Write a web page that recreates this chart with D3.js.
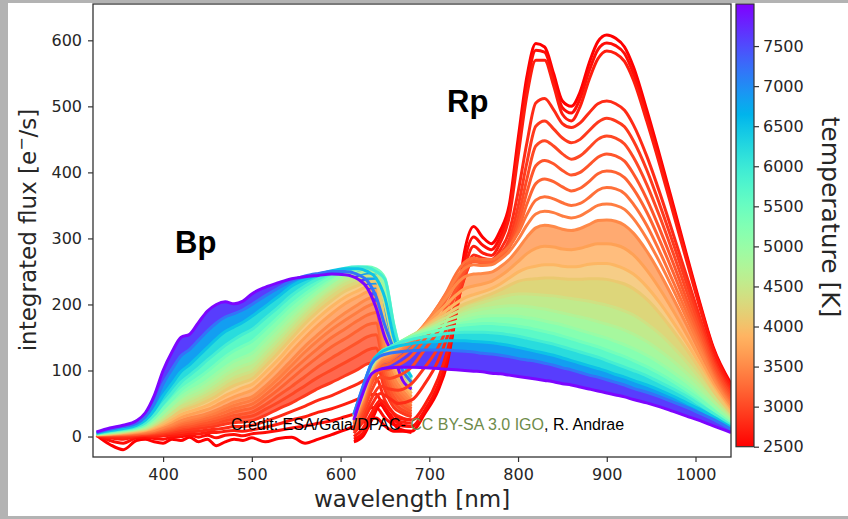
<!DOCTYPE html>
<html><head><meta charset="utf-8">
<script src="https://cdn.jsdelivr.net/npm/d3@7"></script>
<style>
html,body{margin:0;padding:0;background:#fff;}
svg{display:block;}
</style></head>
<body>
<svg id="chart" width="848" height="519"></svg>
<script>
// ---------------- DATA ----------------
const temperatures = [2500, 2600, 2700, 2800, 2900, 3000, 3100, 3200, 3300, 3400, 3500, 3700, 3900, 4100, 4400, 4700, 5000, 5400, 5900, 6500, 7200, 8000];

const bpWavelengths = [325, 340, 355, 370, 380, 390, 400, 410, 420, 430, 440, 450, 460, 470, 480, 490, 500, 515, 530, 545, 560, 575, 590, 605, 620, 630, 640, 650, 660, 670, 680];
const rpWavelengths = [615, 625, 635, 645, 655, 665, 680, 695, 710, 720, 730, 740, 750, 760, 770, 780, 790, 800, 810, 820, 830, 840, 850, 860, 870, 880, 890, 900, 910, 920, 930, 945, 960, 975, 990, 1005, 1020, 1040];

const bp2500 = [2, -12, -20, -6, -4, -8, -10, -4, -6, -1, -8, -4, -14, -8, -4, -6, -2, -8, -3, -1, -10, -4, 3, 10, 18, 25, 28, 16, 8, 8, 6];
const bp2600 = [2, -6, -10, -2, -1, -3, -4, -1, 0, 2, -1, 2, -2, 2, 3, 1, 4, 6, 9, 13, 16, 20, 24, 30, 36, 42, 44, 28, 18, 16, 15];
const bp2700 = [1, -2, -4, 0, 1, 0, 1, 2, 3, 5, 4, 6, 6, 8, 9, 8, 10, 14, 19, 25, 30, 37, 42, 49, 57, 63, 64, 40, 26, 22, 20];
const bp2800 = [1, 0, -1, 1, 2, 2, 3, 5, 6, 8, 8, 10, 11, 13, 15, 15, 17, 23, 30, 38, 46, 55, 62, 71, 80, 87, 88, 55, 35, 28, 25];
const bp2900 = [2, 1, 1, 2, 3, 4, 5, 7, 9, 11, 12, 14, 16, 19, 21, 22, 24, 32, 42, 51, 62, 73, 82, 92, 102, 110, 112, 70, 44, 35, 30];
const bp3000 = [2, 2, 2, 3, 4, 5, 7, 9, 12, 14, 16, 18, 20, 24, 27, 29, 31, 41, 52, 64, 77, 90, 101, 112, 123, 131, 134, 82, 52, 40, 34];
const bp3100 = [2, 2, 3, 4, 5, 6, 8, 11, 14, 16, 19, 21, 24, 28, 32, 34, 37, 48, 62, 76, 91, 106, 119, 131, 143, 151, 154, 95, 60, 46, 38];
const bp3200 = [2, 3, 3, 4, 5, 7, 10, 13, 17, 19, 22, 25, 28, 32, 37, 40, 43, 56, 71, 88, 105, 121, 136, 148, 161, 169, 172, 105, 68, 52, 42];
const bp3300 = [2, 3, 4, 5, 6, 8, 11, 15, 19, 22, 25, 28, 32, 37, 42, 45, 49, 63, 80, 99, 117, 134, 150, 163, 176, 184, 188, 115, 75, 58, 46];
const bp3400 = [3, 3, 4, 6, 7, 9, 13, 17, 22, 25, 28, 32, 36, 42, 47, 51, 55, 70, 88, 108, 128, 146, 162, 176, 189, 197, 202, 125, 82, 64, 50];
const bp3500 = [3, 4, 5, 6, 8, 10, 14, 19, 24, 28, 31, 35, 40, 46, 52, 56, 60, 76, 95, 116, 137, 155, 172, 187, 200, 208, 212, 135, 90, 70, 55];
const bp3700 = [3, 4, 5, 7, 9, 12, 17, 22, 29, 33, 37, 41, 47, 54, 60, 65, 70, 87, 107, 129, 150, 169, 186, 201, 212, 219, 221, 150, 100, 78, 60];
const bp3900 = [3, 4, 6, 8, 10, 14, 19, 26, 33, 38, 42, 47, 54, 62, 68, 74, 79, 97, 117, 140, 161, 180, 197, 211, 221, 227, 228, 160, 110, 84, 65];
const bp4100 = [3, 5, 6, 9, 11, 16, 22, 30, 38, 43, 48, 54, 61, 70, 77, 82, 87, 106, 127, 149, 171, 190, 206, 220, 229, 234, 235, 175, 120, 90, 70];
const bp4400 = [3, 5, 7, 10, 12, 18, 26, 35, 45, 51, 57, 64, 72, 81, 89, 94, 99, 119, 140, 162, 183, 202, 218, 231, 239, 243, 243, 200, 140, 100, 76];
const bp4700 = [4, 6, 8, 11, 14, 21, 30, 41, 52, 60, 66, 74, 83, 93, 101, 107, 112, 132, 153, 174, 194, 212, 227, 240, 247, 250, 249, 215, 150, 106, 80];
const bp5000 = [4, 6, 9, 12, 16, 24, 35, 48, 60, 69, 76, 85, 95, 105, 114, 120, 126, 146, 166, 186, 204, 220, 234, 246, 252, 255, 253, 228, 160, 112, 84];
const bp5400 = [4, 7, 10, 13, 18, 28, 42, 56, 70, 80, 89, 99, 110, 121, 130, 137, 144, 162, 181, 200, 216, 230, 242, 252, 256, 257, 254, 240, 170, 118, 88];
const bp5900 = [5, 8, 11, 15, 21, 33, 50, 66, 82, 93, 104, 116, 127, 138, 147, 155, 162, 179, 196, 214, 228, 239, 248, 255, 257, 256, 250, 238, 168, 118, 90];
const bp6500 = [5, 9, 12, 17, 25, 40, 62, 80, 98, 109, 122, 135, 148, 159, 166, 173, 182, 197, 212, 228, 238, 245, 251, 254, 254, 250, 240, 210, 150, 112, 90];
const bp7200 = [6, 11, 15, 20, 30, 50, 80, 102, 122, 132, 146, 160, 172, 181, 186, 192, 200, 213, 225, 236, 243, 247, 250, 250, 245, 236, 212, 168, 132, 100, 82];
const bp8000 = [7, 13, 17, 24, 36, 62, 100, 128, 150, 155, 173, 190, 200, 204, 201, 205, 216, 226, 233, 239, 242, 244, 246, 245, 238, 225, 195, 150, 122, 85, 72];

const rp2500 = [-8, 0, 25, 48, 30, 12, 8, 35, 70, 110, 185, 282, 318, 302, 292, 312, 350, 450, 545, 595, 590, 550, 508, 500, 522, 565, 598, 608, 603, 590, 560, 495, 424, 350, 275, 202, 135, 80];
const rp2600 = [-4, 5, 30, 50, 35, 20, 15, 40, 78, 118, 185, 268, 302, 290, 283, 303, 342, 438, 532, 585, 582, 542, 498, 490, 512, 553, 586, 596, 592, 580, 550, 487, 418, 345, 271, 199, 133, 77];
const rp2700 = [0, 12, 36, 55, 42, 28, 25, 48, 88, 128, 185, 255, 288, 278, 274, 294, 332, 424, 517, 570, 570, 532, 488, 478, 500, 540, 572, 584, 580, 568, 540, 478, 410, 338, 266, 195, 130, 74];
const rp2800 = [5, 22, 48, 65, 58, 50, 55, 80, 115, 150, 195, 242, 275, 270, 268, 283, 310, 370, 445, 505, 512, 495, 474, 468, 475, 490, 504, 508, 504, 494, 472, 425, 368, 306, 243, 180, 120, 70];
const rp2900 = [8, 28, 58, 76, 72, 70, 80, 105, 135, 165, 203, 242, 268, 265, 264, 276, 298, 348, 415, 470, 478, 466, 452, 445, 450, 463, 476, 482, 478, 469, 448, 404, 350, 292, 232, 172, 115, 66];
const rp3000 = [12, 36, 70, 90, 88, 92, 105, 132, 160, 186, 216, 248, 266, 264, 264, 274, 292, 332, 390, 440, 448, 440, 428, 420, 425, 437, 450, 455, 452, 443, 423, 382, 332, 277, 220, 164, 110, 62];
const rp3100 = [15, 42, 80, 100, 102, 108, 122, 148, 175, 198, 224, 252, 265, 263, 263, 272, 288, 320, 370, 410, 418, 413, 403, 396, 400, 411, 423, 428, 425, 417, 398, 360, 313, 262, 208, 156, 104, 58];
const rp3200 = [18, 46, 86, 106, 110, 118, 134, 160, 188, 210, 234, 258, 266, 264, 264, 272, 286, 312, 352, 383, 390, 386, 378, 372, 376, 386, 398, 402, 400, 392, 375, 340, 296, 248, 198, 148, 99, 54];
const rp3300 = [20, 50, 90, 110, 115, 124, 142, 168, 198, 220, 246, 264, 270, 268, 268, 276, 288, 308, 336, 358, 363, 360, 354, 350, 353, 362, 373, 377, 375, 368, 352, 320, 279, 234, 188, 141, 94, 50];
const rp3400 = [22, 52, 92, 112, 118, 127, 145, 170, 198, 218, 240, 255, 260, 259, 260, 268, 280, 298, 320, 337, 341, 339, 334, 331, 334, 342, 350, 352, 350, 344, 330, 300, 263, 222, 179, 135, 90, 47];
const rp3500 = [24, 55, 95, 115, 121, 130, 148, 170, 195, 212, 230, 242, 246, 247, 249, 257, 268, 284, 302, 316, 320, 318, 314, 312, 315, 321, 327, 328, 326, 320, 308, 281, 247, 209, 169, 128, 86, 44];
const rp3700 = [26, 58, 98, 118, 124, 133, 150, 168, 188, 201, 214, 224, 228, 231, 235, 243, 253, 265, 277, 285, 288, 287, 284, 283, 285, 289, 292, 292, 290, 285, 275, 252, 223, 190, 155, 118, 80, 40];
const rp3900 = [28, 60, 101, 120, 127, 136, 151, 166, 182, 192, 202, 210, 215, 219, 224, 231, 240, 249, 255, 258, 260, 260, 258, 257, 258, 261, 262, 262, 259, 254, 246, 227, 202, 173, 142, 109, 74, 36];
const rp4100 = [29, 62, 103, 122, 129, 138, 152, 165, 178, 186, 194, 201, 206, 211, 216, 222, 229, 235, 238, 239, 240, 240, 239, 238, 238, 239, 239, 238, 235, 231, 224, 208, 186, 160, 132, 102, 70, 33];
const rp4400 = [30, 64, 105, 124, 131, 140, 153, 163, 174, 181, 188, 194, 199, 203, 207, 211, 214, 216, 216, 215, 214, 213, 211, 209, 207, 205, 202, 199, 195, 190, 184, 171, 155, 135, 113, 88, 61, 29];
const rp4700 = [31, 66, 107, 126, 133, 141, 153, 161, 170, 176, 181, 186, 190, 193, 195, 197, 198, 198, 197, 195, 193, 190, 187, 184, 181, 178, 174, 170, 166, 161, 155, 144, 130, 114, 96, 76, 54, 26];
const rp5000 = [32, 68, 109, 127, 134, 142, 152, 159, 166, 170, 174, 177, 180, 182, 183, 183, 183, 182, 180, 178, 175, 172, 169, 165, 161, 157, 153, 149, 144, 139, 133, 123, 111, 97, 82, 65, 47, 23];
const rp5400 = [33, 70, 110, 128, 135, 142, 150, 156, 161, 164, 167, 169, 170, 171, 171, 170, 169, 167, 165, 162, 159, 156, 152, 148, 144, 140, 136, 131, 126, 121, 115, 106, 95, 83, 70, 56, 40, 20];
const rp5900 = [34, 72, 111, 128, 135, 141, 147, 151, 154, 156, 157, 158, 158, 158, 157, 156, 154, 152, 149, 146, 143, 140, 136, 132, 128, 124, 120, 115, 110, 105, 100, 92, 82, 72, 61, 48, 35, 17];
const rp6500 = [34, 74, 112, 127, 133, 137, 141, 143, 144, 145, 145, 145, 144, 143, 142, 140, 138, 135, 132, 129, 126, 123, 119, 115, 111, 107, 103, 99, 94, 90, 85, 78, 70, 61, 51, 41, 30, 14];
const rp7200 = [33, 75, 110, 122, 126, 128, 130, 131, 131, 131, 130, 129, 128, 126, 125, 123, 121, 118, 116, 114, 111, 108, 104, 101, 97, 93, 90, 86, 82, 78, 73, 67, 60, 52, 44, 35, 26, 11];
const rp8000 = [25, 65, 95, 102, 104, 105, 105, 104, 103, 102, 101, 100, 99, 98, 96, 95, 93, 91, 89, 87, 85, 83, 80, 78, 75, 72, 69, 66, 63, 60, 56, 51, 45, 38, 31, 24, 16, 6];

const bpFlux = [bp2500, bp2600, bp2700, bp2800, bp2900, bp3000, bp3100, bp3200, bp3300, bp3400, bp3500, bp3700, bp3900, bp4100, bp4400, bp4700, bp5000, bp5400, bp5900, bp6500, bp7200, bp8000];
const rpFlux = [rp2500, rp2600, rp2700, rp2800, rp2900, rp3000, rp3100, rp3200, rp3300, rp3400, rp3500, rp3700, rp3900, rp4100, rp4400, rp4700, rp5000, rp5400, rp5900, rp6500, rp7200, rp8000];

const xTicks = [400, 500, 600, 700, 800, 900, 1000];
const yTicks = [0, 100, 200, 300, 400, 500, 600];
const cbTicks = [2500, 3000, 3500, 4000, 4500, 5000, 5500, 6000, 6500, 7000, 7500];

// ---------------- LAYOUT ----------------
const svg = d3.select('#chart');
const W = 848, H = 519;
const P = {l: 93, r: 731, t: 4, b: 457};
const CB = {l: 736, r: 754, t: 4, b: 446.7};
const FONT = '"DejaVu Sans", Verdana, sans-serif';
const INK = '#262626';
const fmt = d3.format('d');

// outer grey frame
svg.append('rect').attr('width', W).attr('height', H).attr('fill', '#b3b3b3');
svg.append('rect').attr('x', 8).attr('y', 3).attr('width', W - 8).attr('height', 513).attr('fill', '#fff');

const x = d3.scaleLinear().domain([321, 1040]).range([P.l, P.r]);
const y = d3.scaleLinear().domain([-31, 655]).range([P.b, P.t]);

function rainbow(t) {
  const r = Math.min(1, Math.abs(2 * t - 0.5));
  const g = Math.max(0, Math.sin(Math.PI * t));
  const b = Math.max(0, Math.cos(Math.PI * t / 2));
  return d3.rgb(r * 255, g * 255, b * 255).formatHex();
}
const color = d3.scaleSequential(rainbow).domain([8025, 2500]);

const defs = svg.append('defs');
defs.append('clipPath').attr('id', 'plotclip').append('rect')
  .attr('x', P.l).attr('y', P.t).attr('width', P.r - P.l).attr('height', P.b - P.t);

const plot = svg.append('g').attr('clip-path', 'url(#plotclip)');

function drawBand(wl, flux, fillFrom) {
  const area = d3.area().x((d, i) => x(wl[i])).y0(d => y(d[0])).y1(d => y(d[1])).curve(d3.curveMonotoneX);
  const line = d3.line().x((d, i) => x(wl[i])).y(d => y(d)).curve(d3.curveMonotoneX);
  for (let i = 0; i < temperatures.length - 1; i++) {
    if (temperatures[i] < fillFrom) continue;
    const pair = flux[i].map((v, k) => [v, flux[i + 1][k]]);
    plot.append('path').attr('d', area(pair))
      .attr('fill', color((temperatures[i] + temperatures[i + 1]) / 2))
      .attr('fill-opacity', temperatures[i] < 4000 ? 0.8 : 1);
  }
  temperatures.forEach((T, i) => {
    plot.append('path').attr('d', line(flux[i]))
      .attr('fill', 'none').attr('stroke', color(T))
      .attr('stroke-width', 3).attr('stroke-linejoin', 'round');
  });
}
drawBand(bpWavelengths, bpFlux, 2900);
drawBand(rpWavelengths, rpFlux, 3500);

// axes
const xAxis = svg.append('g').attr('transform', `translate(0,${P.b})`)
  .call(d3.axisBottom(x).tickValues(xTicks).tickFormat(fmt).tickSize(5).tickPadding(7));
const yAxis = svg.append('g').attr('transform', `translate(${P.l},0)`)
  .call(d3.axisLeft(y).tickValues(yTicks).tickFormat(fmt).tickSize(5).tickPadding(6));
[xAxis, yAxis].forEach(a => {
  a.select('.domain').remove();
  a.selectAll('line').attr('stroke', '#333').attr('stroke-width', 1.2);
  a.selectAll('text').attr('font-family', FONT).attr('font-size', 16).attr('fill', INK);
});
svg.append('rect').attr('x', P.l).attr('y', P.t).attr('width', P.r - P.l).attr('height', P.b - P.t)
  .attr('fill', 'none').attr('stroke', '#333').attr('stroke-width', 1.3);

// axis labels
svg.append('text').attr('x', (P.l + P.r) / 2).attr('y', 507).attr('text-anchor', 'middle')
  .attr('font-family', FONT).attr('font-size', 23).attr('fill', INK).text('wavelength [nm]');
const yl = svg.append('text').attr('transform', 'translate(36,230) rotate(-90)').attr('text-anchor', 'middle')
  .attr('font-family', FONT).attr('font-size', 23).attr('fill', INK);
yl.append('tspan').text('integrated flux [e');
yl.append('tspan').attr('dy', -9).attr('font-size', 16).text('\u2212');
yl.append('tspan').attr('dy', 9).text('/s]');

// band annotations
svg.append('text').attr('x', 175).attr('y', 253).attr('font-family', '"Liberation Sans", Arial, sans-serif')
  .attr('font-weight', 'bold').attr('font-size', 31).attr('fill', '#000').text('Bp');
svg.append('text').attr('x', 447).attr('y', 112).attr('font-family', '"Liberation Sans", Arial, sans-serif')
  .attr('font-weight', 'bold').attr('font-size', 31).attr('fill', '#000').text('Rp');

// credit
const cr = svg.append('text').attr('x', 231).attr('y', 430)
  .attr('font-family', '"Liberation Sans", Arial, sans-serif').attr('font-size', 16).attr('fill', '#000');
cr.append('tspan').text('Credit: ESA/Gaia/DPAC- ');
cr.append('tspan').attr('fill', '#6e8b4a').text('CC BY-SA 3.0 IGO');
cr.append('tspan').text(', R. Andrae');

// colorbar
const cy = d3.scaleLinear().domain([2500, 8025]).range([CB.b, CB.t]);
const grad = defs.append('linearGradient').attr('id', 'cbgrad')
  .attr('x1', 0).attr('y1', 1).attr('x2', 0).attr('y2', 0);
d3.range(0, 41).forEach(k => {
  const T = 2500 + (8025 - 2500) * k / 40;
  grad.append('stop').attr('offset', k / 40).attr('stop-color', color(T));
});
svg.append('rect').attr('x', CB.l).attr('y', CB.t).attr('width', CB.r - CB.l).attr('height', CB.b - CB.t)
  .attr('fill', 'url(#cbgrad)').attr('stroke', '#333').attr('stroke-width', 1.2);
const cAxis = svg.append('g').attr('transform', `translate(${CB.r},0)`)
  .call(d3.axisRight(cy).tickValues(cbTicks).tickFormat(fmt).tickSize(5).tickPadding(4));
cAxis.select('.domain').remove();
cAxis.selectAll('line').attr('stroke', '#333').attr('stroke-width', 1.2);
cAxis.selectAll('text').attr('font-family', FONT).attr('font-size', 16).attr('fill', INK);
svg.append('text').attr('transform', 'translate(822,217) rotate(90)').attr('text-anchor', 'middle')
  .attr('font-family', FONT).attr('font-size', 25).attr('fill', INK).text('temperature [K]');
</script>
</body></html>
